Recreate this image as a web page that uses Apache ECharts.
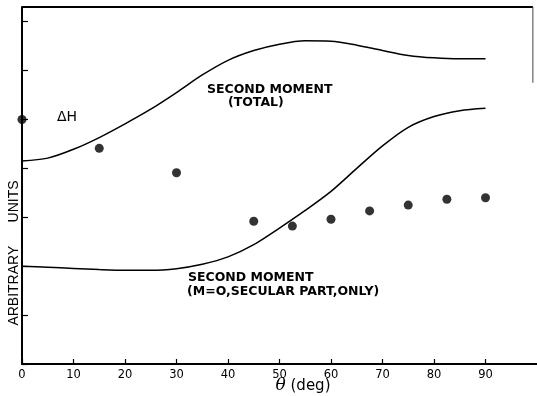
<!DOCTYPE html>
<html>
<head>
<meta charset="utf-8">
<script src="https://cdn.jsdelivr.net/npm/echarts@6/dist/echarts.min.js"></script>
<style>
  html, body { margin: 0; padding: 0; background: #fff; }
  #chart { width: 537px; height: 396px; }
</style>
</head>
<body>
<div id="chart"></div>
<script>
// Angle grid (deg) for the two theoretical curves
const curveTheta = [0, 5, 10, 15, 20, 25, 30, 35, 40, 45, 50, 55, 60, 65, 70, 75, 80, 85, 90];
// Second moment, total
const totalMoment = [4.15, 4.21, 4.39, 4.63, 4.91, 5.21, 5.55, 5.91, 6.21, 6.41, 6.54, 6.61, 6.60, 6.52, 6.41, 6.31, 6.26, 6.24, 6.24];
// Second moment, M=0 secular part only
const secularMoment = [2.00, 1.98, 1.955, 1.93, 1.915, 1.915, 1.95, 2.04, 2.19, 2.44, 2.78, 3.14, 3.53, 4.00, 4.46, 4.84, 5.06, 5.18, 5.23];
// Measured line width ΔH
const measTheta = [0, 15, 30, 45, 52.5, 60, 67.5, 75, 82.5, 90];
const deltaH = [5.00, 4.41, 3.91, 2.92, 2.82, 2.96, 3.13, 3.25, 3.37, 3.40];
// Axis ticks
const xTicks = [0, 10, 20, 30, 40, 50, 60, 70, 80, 90];
const yTicks = [0, 1, 2, 3, 4, 5, 6, 7];

const SANS = '"Liberation Sans", Arial, sans-serif';
const DEJA = '"DejaVu Sans", sans-serif';
const pairs = (xs, ys) => xs.map((x, i) => [x, ys[i]]);

const chart = echarts.init(document.getElementById('chart'), null, { renderer: 'canvas' });

const curveStyle = { color: '#000', width: 1.5 };

chart.setOption({
  animation: false,
  backgroundColor: '#fff',
  grid: { left: 22, top: 7, width: 517, height: 357, containLabel: false },
  xAxis: {
    type: 'value', min: 0, max: 100,
    axisLine: { lineStyle: { color: '#000', width: 2 } },
    axisTick: { inside: true, length: 5, customValues: xTicks, lineStyle: { color: '#000', width: 1.2 } },
    axisLabel: { customValues: xTicks, color: '#000', fontSize: 11.5, fontFamily: DEJA, margin: 5 },
    splitLine: { show: false }
  },
  yAxis: {
    type: 'value', min: 0, max: 7.3,
    axisLine: { show: true, lineStyle: { color: '#000', width: 2 } },
    axisTick: { show: true, inside: true, length: 6, customValues: yTicks, lineStyle: { color: '#000', width: 1.2 } },
    axisLabel: { show: false },
    splitLine: { show: false }
  },
  series: [
    {
      name: 'Second moment (total)', type: 'line', smooth: 0.3, symbol: 'none',
      data: pairs(curveTheta, totalMoment), lineStyle: curveStyle
    },
    {
      name: 'Second moment (M=0, secular part only)', type: 'line', smooth: 0.3, symbol: 'none',
      data: pairs(curveTheta, secularMoment), lineStyle: curveStyle
    },
    {
      name: 'ΔH', type: 'scatter', symbol: 'circle', symbolSize: 9,
      data: pairs(measTheta, deltaH), itemStyle: { color: '#000' }
    }
  ]
});

// Frame pieces (top edge and short right edge) and hand-placed annotations
const topLeft = chart.convertToPixel({ gridIndex: 0 }, [0, 7.3]);
const rightTop = chart.convertToPixel({ gridIndex: 0 }, [99.2, 7.3]);
const rightEnd = chart.convertToPixel({ gridIndex: 0 }, [99.2, 5.75]);

const txt = (x, y, text, font, align, extra) => Object.assign({
  type: 'text', x: x, y: y,
  style: { text: text, fill: '#000', font: font, align: align || 'left', verticalAlign: 'middle' }
}, extra || {});

const LETTER = 'bold 12.5px ' + DEJA;

chart.setOption({
  graphic: [
    { type: 'line', shape: { x1: topLeft[0], y1: topLeft[1], x2: rightTop[0], y2: rightTop[1] }, style: { stroke: '#000', lineWidth: 2 } },
    { type: 'line', shape: { x1: rightTop[0], y1: rightTop[1], x2: rightEnd[0], y2: rightEnd[1] }, style: { stroke: '#444', lineWidth: 1 } },
    txt(207, 90, 'SECOND MOMENT', LETTER),
    txt(228, 103, '(TOTAL)', LETTER),
    txt(67, 117, 'ΔH', '14px ' + DEJA, 'center'),
    txt(188, 278, 'SECOND MOMENT', LETTER),
    txt(187, 292, '(M=O,SECULAR PART,ONLY)', LETTER),
    txt(14, 253, 'ARBITRARY      UNITS', '14px ' + SANS, 'center', { rotation: Math.PI / 2 }),
    {
      type: 'text', x: 303, y: 386,
      style: {
        text: '{i|θ} (deg)', fill: '#000', font: '15px ' + DEJA, align: 'center', verticalAlign: 'middle',
        rich: { i: { fontStyle: 'italic', fontSize: 17, fontFamily: '"DejaVu Serif", serif', fill: '#000' } }
      }
    }
  ]
});
</script>
</body>
</html>
